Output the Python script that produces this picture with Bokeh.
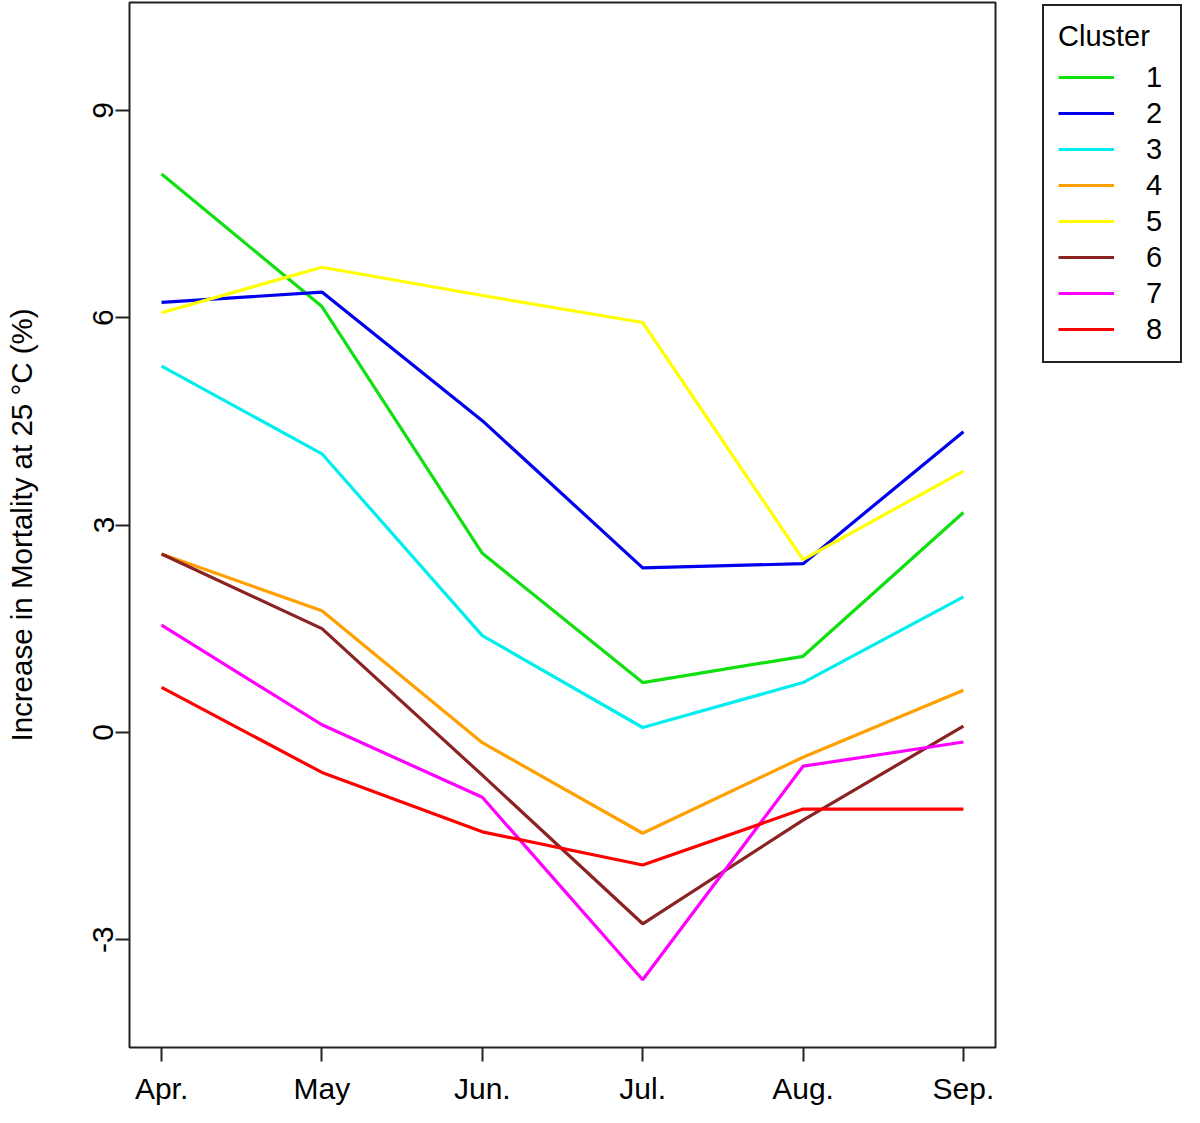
import numpy as np
from bokeh.plotting import figure
from bokeh.models import FixedTicker, Legend, LegendItem, Range1d
from bokeh.layouts import row
from bokeh.embed import file_html
from bokeh.resources import INLINE

months = ["Apr.", "May", "Jun.", "Jul.", "Aug.", "Sep."]
x_idx = [0, 1, 2, 3, 4, 5]

cluster_names = ["1", "2", "3", "4", "5", "6", "7", "8"]
c1 = [8.08, 6.16, 2.59, 0.72, 1.10, 3.18]
c2 = [6.22, 6.37, 4.51, 2.38, 2.44, 4.35]
c3 = [5.30, 4.03, 1.40, 0.07, 0.72, 1.96]
c4 = [2.58, 1.76, -0.15, -1.46, -0.36, 0.61]
c5 = [6.07, 6.73, 6.32, 5.93, 2.50, 3.78]
c6 = [2.58, 1.50, -0.62, -2.77, -1.27, 0.09]
c7 = [1.55, 0.11, -0.94, -3.58, -0.49, -0.14]
c8 = [0.65, -0.58, -1.44, -1.92, -1.11, -1.11]
series = [c1, c2, c3, c4, c5, c6, c7, c8]
colors = ["#10E010", "#0000EE", "#00EEEE", "#FFA000", "#FFFF00", "#8B2323", "#FF00FF", "#FF0000"]

y_ticks = [-3, 0, 3, 6, 9]
FONT = "Liberation Sans"

p = figure(width=1000, height=1107, output_backend="svg", toolbar_location=None,
           x_range=Range1d(-0.2, 5.2), y_range=Range1d(-4.56, 10.56),
           min_border_left=129, min_border_right=5, min_border_top=2, min_border_bottom=58)
p.xgrid.visible = False
p.ygrid.visible = False
p.outline_line_color = "#222222"
p.outline_line_width = 2
p.background_fill_color = "white"
p.border_fill_color = "white"

for ys, col in zip(series, colors):
    p.line(x_idx, ys, line_color=col, line_width=3.2)

xa = p.xaxis[0]
xa.ticker = FixedTicker(ticks=x_idx)
xa.major_label_overrides = {i: m for i, m in zip(x_idx, months)}
ya = p.yaxis[0]
ya.ticker = FixedTicker(ticks=y_ticks)
ya.major_label_overrides = {v: str(v) for v in y_ticks}
ya.major_label_orientation = "vertical"
ya.axis_label = "Increase in Mortality at 25 \u00b0C (%)"
ya.axis_label_text_font = FONT
ya.axis_label_text_font_size = "29.5px"
ya.axis_label_text_font_style = "normal"
ya.axis_label_text_color = "black"
ya.axis_label_standoff = 53

for ax in (xa, ya):
    ax.axis_line_color = None
    ax.major_tick_in = 0
    ax.major_tick_out = 14
    ax.major_tick_line_color = "#222222"
    ax.major_tick_line_width = 2
    ax.minor_tick_line_color = None
    ax.major_label_text_font = FONT
    ax.major_label_text_font_size = "30px"
    ax.major_label_text_color = "black"
xa.major_label_standoff = 10
ya.major_label_standoff = 2

# separate panel holding the legend (proxy glyphs carry no visible data)
pl = figure(width=184, height=1107, output_backend="svg", toolbar_location=None,
            x_axis_type=None, y_axis_type=None, x_range=Range1d(0, 1), y_range=Range1d(0, 1),
            min_border_left=0, min_border_right=0, min_border_top=0, min_border_bottom=0)
pl.outline_line_color = None
pl.xgrid.visible = False
pl.ygrid.visible = False
pl.background_fill_color = "white"
pl.border_fill_color = "white"
items = []
for name, col in zip(cluster_names, colors):
    r = pl.line(x=np.array([np.nan]), y=np.array([np.nan]), line_color=col, line_width=3.2)
    items.append(LegendItem(label=name, renderers=[r]))

legend = Legend(items=items, title="Cluster", location="top_right")
legend.title_text_font = FONT
legend.title_text_font_size = "29px"
legend.title_text_font_style = "normal"
legend.title_text_color = "black"
legend.title_standoff = 6
legend.label_text_font = FONT
legend.label_text_font_size = "29px"
legend.label_text_color = "black"
legend.glyph_width = 56
legend.glyph_height = 36
legend.label_height = 36
legend.label_standoff = 32
legend.spacing = 0
legend.padding = 14
legend.margin = 2
legend.border_line_color = "#222222"
legend.border_line_width = 2
legend.border_line_alpha = 1.0
legend.background_fill_color = "white"
legend.background_fill_alpha = 1.0
pl.add_layout(legend, "center")

layout = row(p, pl, spacing=0)
open("out.html", "w").write(file_html(layout, INLINE))
